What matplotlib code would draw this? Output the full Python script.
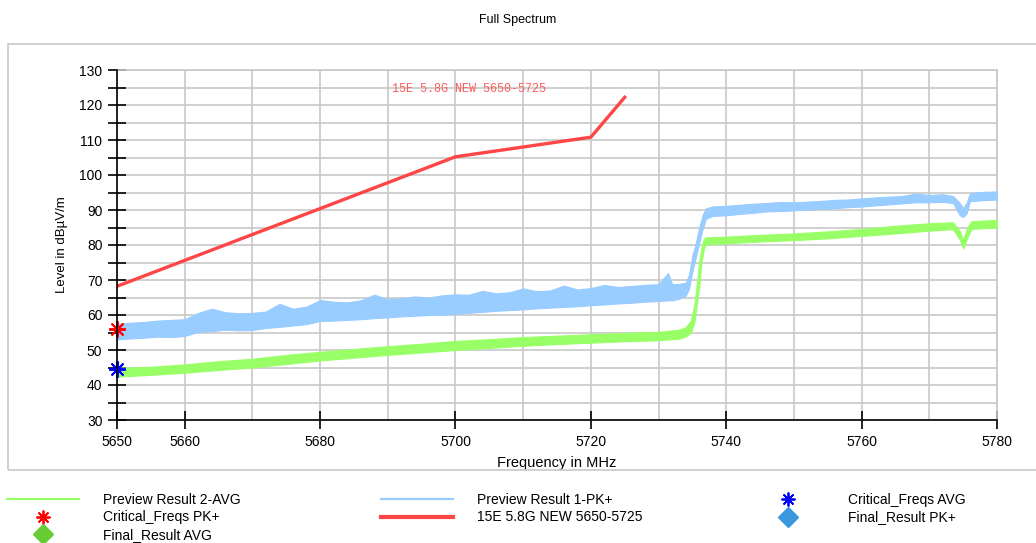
import matplotlib
matplotlib.use('Agg')
from matplotlib import pyplot as plt, ticker
from matplotlib.lines import Line2D
from matplotlib.patches import Rectangle

# Preview Result 1-PK+ (light blue): lower / upper edge of the noisy trace
pk_freq = [5650, 5652, 5654, 5656, 5658, 5660, 5662, 5664, 5666, 5668, 5670, 5672, 5674, 5676, 5678,
           5680, 5682, 5684, 5686, 5688, 5690, 5692, 5694, 5696, 5698, 5700, 5702, 5704, 5706, 5708,
           5710, 5712, 5714, 5716, 5718, 5720, 5722, 5724, 5726, 5728, 5730, 5731.4, 5732, 5733, 5734,
           5734.5, 5735, 5735.5, 5736, 5736.5, 5737, 5738, 5740, 5742, 5744, 5746, 5748, 5750, 5752,
           5754, 5756, 5758, 5760, 5762, 5764, 5766, 5768, 5770, 5772, 5773.5, 5774.5, 5775, 5775.5,
           5776, 5778, 5780]
pk_low = [53.0, 53.3, 53.5, 53.8, 53.7, 54.0, 55.2, 55.4, 55.8, 55.6, 55.7, 56.3, 56.6, 57.0, 57.4,
          58.3, 58.4, 58.6, 58.8, 59.1, 59.3, 59.6, 59.8, 60.0, 60.1, 60.3, 60.6, 60.9, 61.2, 61.4,
          61.6, 61.9, 62.1, 62.3, 62.5, 62.8, 63.0, 63.3, 63.5, 63.8, 64.0, 64.2, 64.2, 64.6, 65.5,
          67.5, 72.5, 76.5, 80.5, 84.5, 87.5, 88.3, 88.5, 88.9, 89.2, 89.6, 89.7, 89.9, 90.1,
          90.3, 90.5, 90.8, 91.0, 91.3, 91.6, 91.9, 92.2, 92.2, 92.3, 92.0, 88.5, 88.0, 89.0,
          92.5, 92.8, 93.0]
pk_high = [57.5, 57.8, 58.0, 58.4, 58.6, 58.8, 60.6, 61.8, 60.8, 60.5, 60.6, 61.0, 63.2, 61.8, 62.4,
           64.3, 63.8, 63.6, 64.2, 65.8, 64.5, 64.8, 65.3, 65.0, 65.6, 65.9, 65.8, 66.9, 66.2, 66.5,
           67.6, 66.8, 67.0, 68.4, 67.3, 67.7, 68.6, 68.0, 68.3, 68.6, 68.8, 72.0, 68.8, 68.9, 69.2,
           71.5, 77.0, 80.5, 85.0, 88.5, 90.5, 91.0, 91.2, 91.5, 91.8, 92.0, 92.3, 92.2, 92.4,
           92.6, 92.9, 93.0, 93.3, 93.6, 93.8, 94.0, 94.7, 94.3, 94.5, 94.0, 92.0, 90.5, 92.0,
           94.8, 95.2, 95.3]

# Preview Result 2-AVG (light green)
avg_freq = [5650, 5652, 5655, 5660, 5665, 5670, 5675, 5680, 5685, 5690, 5695, 5700, 5705, 5710, 5715,
            5720, 5725, 5730, 5733, 5734, 5734.8, 5735.3, 5735.6, 5736, 5736.3, 5736.7, 5737, 5740,
            5745, 5750, 5755, 5760, 5765, 5770, 5773.5, 5774.5, 5775, 5775.5, 5776.2, 5778, 5780]
avg_low = [42.4, 42.6, 42.9, 43.5, 44.3, 45.0, 46.0, 47.0, 47.8, 48.6, 49.3, 50.0, 50.6, 51.2, 51.7,
           52.1, 52.5, 52.8, 53.2, 53.8, 55.0, 58.0, 62.5, 68.0, 74.5, 79.0, 80.2, 80.5,
           81.0, 81.4, 81.9, 82.6, 83.3, 84.1, 84.5, 81.5, 79.0, 81.5, 84.6, 84.8, 85.0]
avg_high = [45.0, 45.0, 45.2, 45.9, 46.8, 47.5, 48.6, 49.5, 50.3, 51.1, 51.8, 52.6, 53.1, 53.7, 54.1,
            54.5, 54.9, 55.2, 55.8, 56.5, 58.5, 63.0, 68.0, 75.0, 79.0, 81.8, 82.2, 82.4,
            82.9, 83.3, 83.9, 84.6, 85.5, 86.2, 86.5, 84.0, 81.5, 84.5, 86.8, 87.0, 87.2]

# 15E 5.8G NEW 5650-5725 limit line
limit_freq = [5650, 5700, 5720, 5725]
limit_level = [68.2, 105.2, 110.8, 122.2]

# Critical frequencies
crit_pk_freq = [5650.0]
crit_pk_level = [56.0]
crit_avg_freq = [5650.0]
crit_avg_level = [44.5]

x_ticks = [5650, 5660, 5680, 5700, 5720, 5740, 5760, 5780]

GREEN = '#99ff66'
BLUE = '#99ccff'
RED = '#ff4646'
GRID = '#c8c8c8'
FONT = ['Liberation Sans', 'DejaVu Sans']
ASTER = (8, 2, 0)

plt.rcParams['font.family'] = FONT
plt.rcParams['font.size'] = 10

fig = plt.figure(figsize=(10.36, 5.43), dpi=100)
fig.patches.append(Rectangle((8 / 1036, 1 - 470 / 543), 1.2, (470 - 44) / 543, transform=fig.transFigure,
                             fill=False, edgecolor='#c8c8c8', lw=1.2))
fig.text(0.5, 1 - 20 / 543, 'Full Spectrum', ha='center', va='center', fontsize=9)

ax = fig.add_axes([117 / 1036, 1 - 420 / 543, 880 / 1036, 350 / 543])

ax.fill_between(avg_freq, avg_low, avg_high, color=GREEN, lw=0.8, edgecolor=GREEN, zorder=3)
ax.fill_between(pk_freq, pk_low, pk_high, color=BLUE, lw=0.8, edgecolor=BLUE, zorder=3)
ax.plot(limit_freq, limit_level, color=RED, lw=2.4, zorder=4)
ax.plot(crit_pk_freq, crit_pk_level, ls='none', marker=ASTER, ms=12, mew=1.4, color='#ff0000',
        zorder=6, clip_on=False)
ax.plot(crit_avg_freq, crit_avg_level, ls='none', marker=ASTER, ms=12, mew=1.4, color='#0000ff',
        zorder=6, clip_on=False)
ax.text(5690.6, 124.6, '15E 5.8G NEW 5650-5725', color='#ff5a5a', fontsize=8.5,
        family=['Liberation Mono', 'DejaVu Sans Mono'], va='center', ha='left', zorder=5)

ax.set_xlim(5650, 5780)
ax.set_ylim(30, 130)
ax.set_xticks(x_ticks)
ax.xaxis.set_minor_locator(ticker.MultipleLocator(10))
ax.yaxis.set_major_locator(ticker.MultipleLocator(10))
ax.yaxis.set_minor_locator(ticker.MultipleLocator(5))
ax.tick_params(axis='both', which='major', direction='inout', length=13, width=1.2, color='black',
               labelsize=10, pad=4)
ax.tick_params(axis='y', which='minor', direction='inout', length=13, width=1.2, color='black')
ax.tick_params(axis='x', which='minor', length=0)
ax.grid(True, which='both', color=GRID, lw=1.2, zorder=0)
ax.set_axisbelow(True)
for side in ('left', 'bottom'):
    ax.spines[side].set_color('black')
    ax.spines[side].set_linewidth(1.2)
    ax.spines[side].set_zorder(7)
for side in ('top', 'right'):
    ax.spines[side].set_color(GRID)
    ax.spines[side].set_linewidth(1.2)

ax.set_xlabel('Frequency in MHz', fontsize=10.5, labelpad=5)
ax.set_ylabel('Level in dBµV/m', fontsize=9.5, labelpad=8)

legend_cols = [
    (7, [Line2D([], [], color=GREEN, lw=1.6),
         Line2D([], [], ls='none', marker=ASTER, ms=10, mew=1.3, color='#ff0000'),
         Line2D([], [], ls='none', marker='D', ms=10, color='#66cc33')],
     ['Preview Result 2-AVG', 'Critical_Freqs PK+', 'Final_Result AVG']),
    (381, [Line2D([], [], color=BLUE, lw=1.6),
           Line2D([], [], color=RED, lw=3)],
     ['Preview Result 1-PK+', '15E 5.8G NEW 5650-5725']),
    (752, [Line2D([], [], ls='none', marker=ASTER, ms=10, mew=1.3, color='#0000ff'),
           Line2D([], [], ls='none', marker='D', ms=10, color='#3a96dd')],
     ['Critical_Freqs AVG', 'Final_Result PK+']),
]
for x0, handles, labels in legend_cols:
    fig.legend(handles, labels, loc='upper left', bbox_to_anchor=(x0 / 1036, 1 - 493 / 543),
               frameon=False, borderpad=0, borderaxespad=0, handlelength=5.2, handletextpad=1.7,
               labelspacing=0.25, numpoints=1, fontsize=10)

fig.savefig('out.png', dpi=100)
plt.close(fig)
